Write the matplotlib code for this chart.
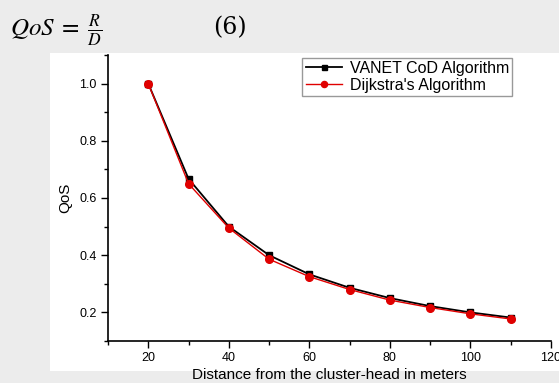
import matplotlib
matplotlib.use("Agg")
import matplotlib.pyplot as plt
from matplotlib.patches import Rectangle
from matplotlib.ticker import MultipleLocator

plt.rcParams['font.family'] = ['Liberation Sans', 'DejaVu Sans']
plt.rcParams['mathtext.fontset'] = 'stix'

# data
distance = [20, 30, 40, 50, 60, 70, 80, 90, 100, 110]
vanet_cod = [1.0, 0.667, 0.5, 0.4, 0.333, 0.286, 0.25, 0.222, 0.2, 0.182]
dijkstra = [1.0, 0.65, 0.495, 0.386, 0.325, 0.28, 0.243, 0.217, 0.195, 0.177]
series_names = ["VANET CoD Algorithm", "Dijkstra's Algorithm"]

W, H = 559, 383
fig = plt.figure(figsize=(W / 100, H / 100), dpi=100, facecolor='#ececec')

# white panel of the pasted chart
fig.patches.append(Rectangle((50 / W, 1 - 371 / H), 1, (371 - 53) / H,
                             transform=fig.transFigure, facecolor='white',
                             edgecolor='none', zorder=-5))

# equation line above the chart
fig.text(10 / W, 1 - 30 / H, r"$QoS\;=\;\frac{R}{D}$", fontsize=18,
         va='center', ha='left')
fig.text(213 / W, 1 - 28 / H, "(6)", fontsize=17, va='center', ha='left',
         family='DejaVu Serif')

ax = fig.add_axes([108 / W, 1 - 341 / H, (551 - 108) / W, (341 - 55) / H])
ax.set_zorder(2)
ax.set_facecolor('white')

ax.plot(distance, vanet_cod, color='black', lw=1.3, marker='s', ms=4.5,
        label=series_names[0])
ax.plot(distance, dijkstra, color='#e00000', lw=1.0, marker='o', ms=5.5,
        label=series_names[1])

ax.set_xlim(10, 120)
ax.set_ylim(0.1, 1.1)
ax.xaxis.set_major_locator(MultipleLocator(20))
ax.xaxis.set_minor_locator(MultipleLocator(10))
ax.yaxis.set_major_locator(MultipleLocator(0.2))
ax.yaxis.set_minor_locator(MultipleLocator(0.1))
ax.set_xticks([20, 40, 60, 80, 100, 120])
ax.set_yticks([0.2, 0.4, 0.6, 0.8, 1.0])
ax.tick_params(which='major', direction='out', length=5, width=1,
               labelsize=9, pad=3)
ax.tick_params(which='minor', direction='out', length=3, width=1)

for side in ['top', 'right']:
    ax.spines[side].set_visible(False)
for side in ['left', 'bottom']:
    ax.spines[side].set_linewidth(1.2)

ax.set_xlabel("Distance from the cluster-head in meters", fontsize=11,
              labelpad=3)
ax.set_ylabel("QoS", fontsize=11, labelpad=5)

ax.legend(loc='upper right', bbox_to_anchor=(0.912, 0.99), borderaxespad=0,
          fancybox=False, edgecolor='#999999', framealpha=1, fontsize=11.5,
          handlelength=2.3, handletextpad=0.45, borderpad=0.2,
          labelspacing=0.1, markerscale=0.8)

fig.savefig("out.png", dpi=100, facecolor=fig.get_facecolor())
